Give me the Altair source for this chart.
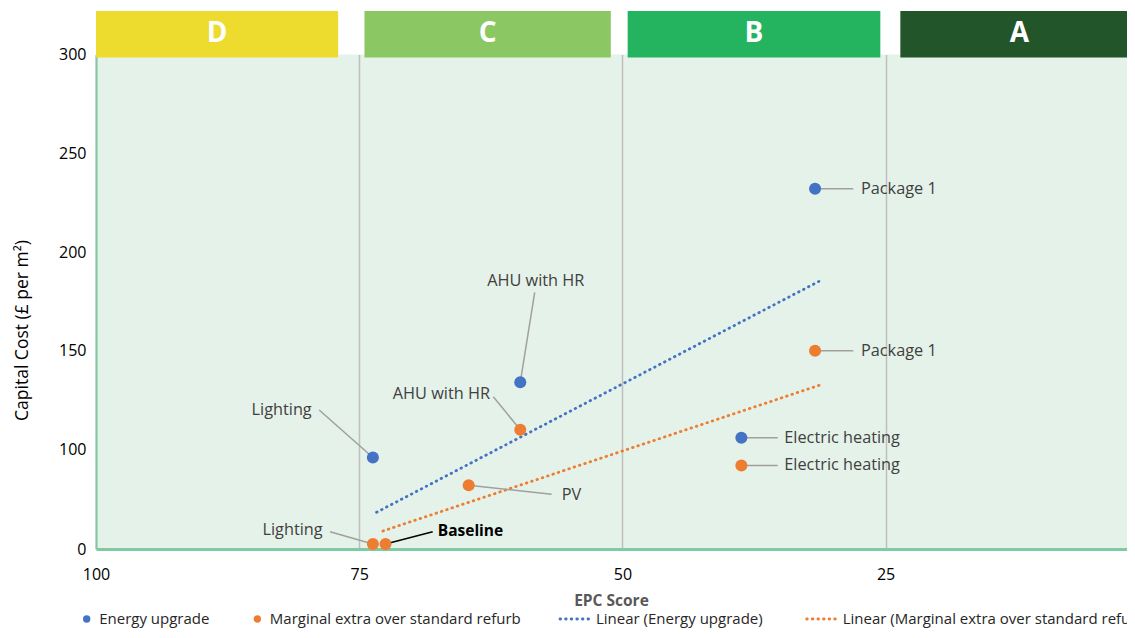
import altair as alt
import pandas as pd

# ---------------- data ----------------
energy_labels = ["Lighting", "AHU with HR", "Electric heating", "Package 1"]
energy_epc = [73.7, 59.7, 38.7, 31.7]
energy_cost = [92, 134, 106, 232]

marginal_labels = ["Baseline", "Lighting", "PV", "AHU with HR", "Electric heating", "Package 1"]
marginal_epc = [72.5, 73.7, 64.6, 59.7, 38.7, 31.7]
marginal_cost = [5, 5, 64, 110, 84, 150]

trend_energy_epc = [73.35, 31.2]
trend_energy_cost = [36.9, 185.5]
trend_marginal_epc = [72.75, 31.2]
trend_marginal_cost = [18.1, 132.7]

band_letters = ["D", "C", "B", "A"]
band_start = [100, 74.5, 49.5, 23.6]
band_end = [77.0, 51.1, 25.5, 1.0]

x_ticks = [100, 75, 50, 25]
y_ticks = [0, 100, 150, 200, 250, 300]

series_names = ["Energy upgrade", "Marginal extra over standard refurb",
                "Linear (Energy upgrade)", "Linear (Marginal extra over standard refurb"]

# annotation layout (data units): leader end and label anchor
leader_end = {
    ("E", "Lighting"): (78.8, 120), ("E", "AHU with HR"): (58.33, 179.6),
    ("E", "Electric heating"): (35.25, 106), ("E", "Package 1"): (28.07, 232),
    ("M", "Lighting"): (77.77, 17.4), ("M", "Baseline"): (68.02, 17.4),
    ("M", "PV"): (56.72, 55), ("M", "AHU with HR"): (62.26, 126.7),
    ("M", "Electric heating"): (35.25, 84), ("M", "Package 1"): (28.07, 150),
}
label_anchor = {
    ("E", "Lighting"): (79.51, 120, "right"), ("E", "AHU with HR"): (58.23, 185.5, "center"),
    ("E", "Electric heating"): (34.62, 106, "left"), ("E", "Package 1"): (27.34, 232, "left"),
    ("M", "Lighting"): (78.47, 19.1, "right"), ("M", "Baseline"): (67.54, 18.4, "left"),
    ("M", "PV"): (55.77, 54.3, "left"), ("M", "AHU with HR"): (62.58, 127.95, "right"),
    ("M", "Electric heating"): (34.62, 84, "left"), ("M", "Package 1"): (27.34, 150, "left"),
}

# ---------------- styling ----------------
BLUE = "#4472C4"
ORANGE = "#ED7D31"
GREEN_LINE = "#80C9A3"
PLOT_FILL = "#E5F2E9"
band_colors = ["#EDDC2E", "#8BC864", "#24B460", "#23552B"]
FONT = "Open Sans"

PX_PER_UNIT = 10.528
W, H = 1031, 494.5
X_END = 100 - W / PX_PER_UNIT

pts = pd.DataFrame(
    [{"series": "E", "label": l, "epc": x, "cost": y} for l, x, y in zip(energy_labels, energy_epc, energy_cost)]
    + [{"series": "M", "label": l, "epc": x, "cost": y} for l, x, y in zip(marginal_labels, marginal_epc, marginal_cost)]
)
ann_rows = []
for _, r in pts.iterrows():
    key = (r["series"], r["label"])
    lx, ly = leader_end[key]
    tx, ty, al = label_anchor[key]
    ann_rows.append({"series": r["series"], "label": r["label"], "epc": r["epc"], "cost": r["cost"],
                     "lx": lx, "ly": ly, "tx": tx, "ty": ty, "align": al,
                     "bold": r["label"] == "Baseline"})
ann = pd.DataFrame(ann_rows)

trend = pd.DataFrame(
    [{"series": "E", "epc": x, "cost": y} for x, y in zip(trend_energy_epc, trend_energy_cost)]
    + [{"series": "M", "epc": x, "cost": y} for x, y in zip(trend_marginal_epc, trend_marginal_cost)]
)
bands = pd.DataFrame({"letter": band_letters, "x0": band_start, "x1": band_end, "color": band_colors})
bands["mid"] = (bands["x0"] + bands["x1"]) / 2

xs = alt.Scale(domain=[100, X_END], nice=False, zero=False)
ys = alt.Scale(domain=[0, 100, 300], range=[H, H - 99.5, 0], nice=False, zero=False)

xa = alt.Axis(values=x_ticks, grid=True, gridColor="#BFBFBF", gridWidth=1.5,
              domainColor=GREEN_LINE, domainWidth=3, ticks=False,
              labelFontSize=16, labelColor="#000000", labelPadding=17, labelFlush=False,
              labelOverlap=False, labelFont=FONT,
              title="EPC Score", titleFontSize=15.5, titleFontWeight="bold", titleColor="#595959",
              titleFont=FONT, titleX=515, titleY=51, titleBaseline="middle")
ya = alt.Axis(values=y_ticks, grid=False, domainColor=GREEN_LINE, domainWidth=2, ticks=False,
              labelFontSize=16, labelColor="#000000", labelPadding=10, labelFlush=False,
              labelOverlap=False, labelFont=FONT,
              title="Capital Cost (£ per m²)", titleFontSize=17.5, titleFontWeight="normal",
              titleColor="#000000", titleFont=FONT, titleX=-74, titleY=275.5, titleBaseline="middle")


def X(field):
    return alt.X(field, type="quantitative", scale=xs, axis=xa, title="EPC Score")


def Y(field):
    return alt.Y(field, type="quantitative", scale=ys, axis=ya, title="Capital Cost (£ per m²)")


col_scale = alt.Scale(domain=["E", "M"], range=[BLUE, ORANGE])

band_rect = alt.Chart(bands).mark_rect().encode(
    x=X("x0"), x2="x1", y=alt.value(-43.5), y2=alt.value(3),
    color=alt.Color("color:N", scale=None),
)
band_text = alt.Chart(bands).mark_text(font=FONT, fontSize=28, fontWeight="bold",
                                       color="white", baseline="middle").encode(
    x=X("mid"), y=alt.value(-21), text="letter:N"
)

trend_lines = alt.Chart(trend).mark_line(strokeDash=[0.6, 5], strokeWidth=2.8, strokeCap="round").encode(
    x=X("epc"), y=Y("cost"), detail="series:N",
    color=alt.Color("series:N", scale=col_scale, legend=None),
)

leaders = alt.Chart(ann).transform_filter("!datum.bold").mark_rule(color="#A0A0A0", strokeWidth=1.5).encode(
    x=X("epc"), x2="lx", y=Y("cost"), y2="ly"
)
leader_bold = alt.Chart(ann).transform_filter("datum.bold").mark_rule(color="#000000", strokeWidth=1.5).encode(
    x=X("epc"), x2="lx", y=Y("cost"), y2="ly"
)

points = alt.Chart(pts).mark_circle(size=145, opacity=1).encode(
    x=X("epc"), y=Y("cost"),
    color=alt.Color("series:N", scale=col_scale, legend=None),
)

label_layers = []
for al in ["left", "right", "center"]:
    label_layers.append(
        alt.Chart(ann).transform_filter(f"!datum.bold && datum.align == '{al}'")
        .mark_text(font=FONT, fontSize=16.3, color="#404040", align=al, baseline="middle")
        .encode(x=X("tx"), y=Y("ty"), text="label:N")
    )
label_bold = (alt.Chart(ann).transform_filter("datum.bold")
              .mark_text(font=FONT, fontSize=15.5, fontWeight="bold", color="#000000",
                         align="left", baseline="middle")
              .encode(x=X("tx"), y=Y("ty"), text="label:N"))

# ---------------- legend (bottom) ----------------
LEG_Y = 564.5
legend_layers = []
one = pd.DataFrame({"k": [0]})
dot_x = [-9.3, 161.3]
for name, cx, c in zip(series_names[:2], dot_x, [BLUE, ORANGE]):
    legend_layers.append(alt.Chart(one).mark_circle(size=55, opacity=1, color=c).encode(
        x=alt.value(cx), y=alt.value(LEG_Y)))
    legend_layers.append(alt.Chart(one).mark_text(font=FONT, fontSize=15, color="#262626",
                                                  align="left", baseline="middle", text=name).encode(
        x=alt.value(cx + 12.5), y=alt.value(LEG_Y)))
line_x = [464, 710.7]
for name, lx0, c in zip(series_names[2:], line_x, [BLUE, ORANGE]):
    legend_layers.append(alt.Chart(one).mark_rule(color=c, strokeDash=[0.6, 5], strokeWidth=2.8,
                                                  strokeCap="round").encode(
        x=alt.value(lx0), x2=alt.value(lx0 + 30), y=alt.value(LEG_Y)))
    legend_layers.append(alt.Chart(one).mark_text(font=FONT, fontSize=15, color="#262626",
                                                  align="left", baseline="middle", text=name).encode(
        x=alt.value(lx0 + 36), y=alt.value(LEG_Y)))

chart = alt.layer(
    band_rect, band_text, trend_lines, leaders, leader_bold, points,
    *label_layers, label_bold, *legend_layers
).properties(
    width=W, height=H,
    autosize=alt.AutoSizeParams(type="none"),
    padding={"left": 88, "top": 46.5, "right": 0, "bottom": 80},
).configure(
    font=FONT,
    view=alt.ViewConfig(fill=PLOT_FILL, stroke=None),
)

chart.save("out.html", embed_options={"renderer": "svg", "actions": False})
